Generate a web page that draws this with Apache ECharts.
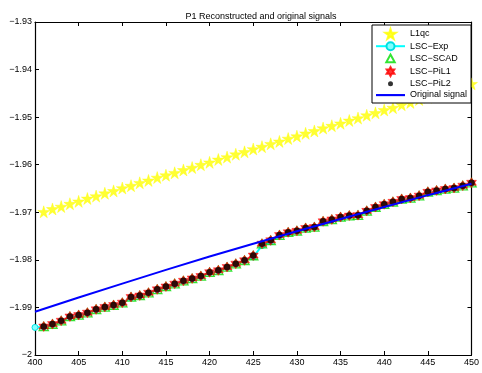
<!DOCTYPE html>
<html>
<head>
<meta charset="utf-8">
<script src="https://cdn.jsdelivr.net/npm/echarts@6/dist/echarts.min.js"></script>
<style>
  html, body { margin: 0; padding: 0; background: #fff; }
  #chart { width: 482px; height: 373px; }
</style>
</head>
<body>
<div id="chart"></div>
<script>
// sample positions
const markerX = [401, 402, 403, 404, 405, 406, 407, 408, 409, 410,
  411, 412, 413, 414, 415, 416, 417, 418, 419, 420,
  421, 422, 423, 424, 425, 426, 427, 428, 429, 430,
  431, 432, 433, 434, 435, 436, 437, 438, 439, 440,
  441, 442, 443, 444, 445, 446, 447, 448, 449, 450]

const l1qc = [-1.9699, -1.9693, -1.9688, -1.9682, -1.9677, -1.9671, -1.9666, -1.9660, -1.9655, -1.9649,
  -1.9644, -1.9638, -1.9633, -1.9627, -1.9622, -1.9617, -1.9611, -1.9606, -1.9600, -1.9595,
  -1.9589, -1.9584, -1.9578, -1.9573, -1.9567, -1.9562, -1.9556, -1.9551, -1.9545, -1.9540,
  -1.9534, -1.9529, -1.9523, -1.9518, -1.9513, -1.9507, -1.9502, -1.9496, -1.9491, -1.9485,
  -1.9480, -1.9474, -1.9469, -1.9463, -1.9458, -1.9452, -1.9447, -1.9441, -1.9436, -1.9430]

// LSC-SCAD, LSC-PiL1 and LSC-PiL2 sit on top of each other at this scale
const lscPiL = [-1.9940, -1.9935, -1.9928, -1.9919, -1.9916, -1.9911, -1.9904, -1.9899, -1.9895, -1.9890,
  -1.9878, -1.9875, -1.9869, -1.9862, -1.9856, -1.9850, -1.9844, -1.9839, -1.9834, -1.9826,
  -1.9822, -1.9815, -1.9808, -1.9801, -1.9791, -1.9766, -1.9759, -1.9748, -1.9742, -1.9739,
  -1.9733, -1.9731, -1.9719, -1.9715, -1.9710, -1.9707, -1.9706, -1.9697, -1.9689, -1.9683,
  -1.9678, -1.9672, -1.9670, -1.9665, -1.9657, -1.9654, -1.9651, -1.9649, -1.9644, -1.9638]

const expX = [400, 401, 402, 403, 404, 405, 406, 407, 408, 409, 410,
  411, 412, 413, 414, 415, 416, 417, 418, 419, 420,
  421, 422, 423, 424, 425, 426, 427, 428, 429, 430,
  431, 432, 433, 434, 435, 436, 437, 438, 439, 440,
  441, 442, 443, 444, 445, 446, 447, 448, 449, 450]
const lscExp = [-1.9942, -1.9941, -1.9936, -1.9929, -1.9920, -1.9917, -1.9912, -1.9905, -1.9900, -1.9896, -1.9891,
  -1.9880, -1.9876, -1.9870, -1.9863, -1.9857, -1.9851, -1.9845, -1.9840, -1.9835, -1.9827,
  -1.9823, -1.9816, -1.9809, -1.9802, -1.9794, -1.9770, -1.9762, -1.9750, -1.9744, -1.9740,
  -1.9735, -1.9732, -1.9721, -1.9716, -1.9712, -1.9708, -1.9707, -1.9699, -1.9691, -1.9684,
  -1.9679, -1.9674, -1.9671, -1.9666, -1.9659, -1.9656, -1.9652, -1.9650, -1.9645, -1.9639]

const origX = [400, 405, 410, 415, 420, 425, 430, 435, 440, 445, 450]
const original = [-1.9909, -1.9879, -1.9850, -1.9821, -1.9793, -1.9766, -1.9740, -1.9714, -1.9689, -1.9664, -1.9640]

const xTicks = { min: 400, max: 450, step: 5 }
const yTicks = { min: -2, max: -1.93, step: 0.01 }

const pairs = (xs, ys) => xs.map((x, i) => [x, ys[i]])

// symbol paths; the extra M points pad the box so legend icons stay small
const STAR5 = 'path://M50,0 L61,35 L98,35 L68,57 L79,91 L50,70 L21,91 L32,57 L2,35 L39,35 Z'
const STAR6 = 'path://M50,0 L64,25 L93,25 L79,50 L93,75 L64,75 L50,100 L36,75 L7,75 L21,50 L7,25 L36,25 Z'
const TRI = 'path://M0,0 M100,100 M50,12 L92,88 L8,88 Z'
const DOT = 'path://M0,0 M100,100 M25,50 A25,25 0 1,1 75,50 A25,25 0 1,1 25,50 Z'
const HEX_LEG = 'path://M0,0 M100,100 M50,5 L63,28 L89,28 L76,50 L89,72 L63,72 L50,95 L37,72 L11,72 L24,50 L11,28 L37,28 Z'
const BAR = 'path://M0,4 L30,4 L30,6.2 L0,6.2 Z M0,0 M30,10'
const FONT = 'Liberation Sans, Arial, Helvetica, sans-serif'

const fmt = (v) => String(Math.round(v * 100) / 100).replace('-', '\u2212')

const axisCommon = {
  axisLine: { show: true, onZero: false, lineStyle: { color: '#000', width: 1.2 } },
  axisTick: { show: true, inside: true, length: 4, lineStyle: { color: '#000' } },
  splitLine: { show: false }
}

const chart = echarts.init(document.getElementById('chart'), null, { renderer: 'canvas' })

chart.setOption({
  animation: false,
  backgroundColor: '#fff',
  textStyle: { fontFamily: FONT },
  title: {
    text: 'P1 Reconstructed and original signals',
    left: 256,
    textAlign: 'center',
    top: 7,
    textStyle: { fontSize: 9, fontWeight: 'normal', color: '#000', fontFamily: FONT }
  },
  grid: { left: 35, right: 6, top: 22, bottom: 18 },
  legend: {
    orient: 'vertical',
    left: 372,
    top: 25,
    padding: [3, 4, 3, 3],
    itemGap: 1.2,
    itemWidth: 29,
    itemHeight: 10,
    borderColor: '#000',
    borderWidth: 1,
    backgroundColor: '#fff',
    textStyle: { fontSize: 9, lineHeight: 10, color: '#000', fontFamily: FONT },
    data: [
      { name: 'L1qc' },
      { name: 'LSC\u2212Exp' },
      { name: 'LSC\u2212SCAD' },
      { name: 'LSC\u2212PiL1', icon: HEX_LEG },
      { name: 'LSC\u2212PiL2' },
      { name: 'Original signal', icon: BAR }
    ]
  },
  xAxis: [
    {
      type: 'value', min: xTicks.min, max: xTicks.max, interval: xTicks.step,
      ...axisCommon,
      axisLabel: { color: '#000', fontSize: 9, margin: 3, fontFamily: FONT }
    },
    {
      type: 'value', position: 'top', min: xTicks.min, max: xTicks.max, interval: xTicks.step,
      ...axisCommon,
      axisLabel: { show: false }
    }
  ],
  yAxis: [
    {
      type: 'value', min: yTicks.min, max: yTicks.max, interval: yTicks.step,
      ...axisCommon,
      axisLabel: { color: '#000', fontSize: 9, margin: 3, fontFamily: FONT, formatter: fmt }
    },
    {
      type: 'value', position: 'right', min: yTicks.min, max: yTicks.max, interval: yTicks.step,
      ...axisCommon,
      axisLabel: { show: false }
    }
  ],
  series: [
    {
      name: 'L1qc',
      type: 'scatter',
      z: 2,
      data: pairs(markerX, l1qc),
      symbol: STAR5,
      symbolSize: 12,
      itemStyle: { color: '#ffff00', borderColor: '#ffff00', borderWidth: 0.5 }
    },
    {
      name: 'LSC\u2212Exp',
      type: 'line',
      z: 3,
      data: pairs(expX, lscExp),
      symbol: 'circle',
      symbolSize: 6,
      showAllSymbol: true,
      lineStyle: { color: '#00ffff', width: 2 },
      itemStyle: { color: '#80ffff', borderColor: '#00e0e0', borderWidth: 1 }
    },
    {
      name: 'LSC\u2212SCAD',
      type: 'scatter',
      z: 4,
      data: pairs(markerX, lscPiL),
      symbol: TRI,
      symbolSize: 11,
      itemStyle: { color: 'rgba(0,0,0,0)', borderColor: '#00dd00', borderWidth: 1.3 }
    },
    {
      name: 'LSC\u2212PiL1',
      type: 'scatter',
      z: 5,
      data: pairs(markerX, lscPiL),
      symbol: STAR6,
      symbolSize: 10,
      itemStyle: { color: '#ff0000', borderColor: '#ff0000', borderWidth: 0.5 }
    },
    {
      name: 'LSC\u2212PiL2',
      type: 'scatter',
      z: 6,
      data: pairs(markerX, lscPiL),
      symbol: DOT,
      symbolSize: 13,
      itemStyle: { color: '#000' }
    },
    {
      name: 'Original signal',
      type: 'line',
      z: 7,
      data: pairs(origX, original),
      symbol: 'none',
      lineStyle: { color: '#0000ff', width: 2 },
      itemStyle: { color: '#0000ff' }
    }
  ]
})
</script>
</body>
</html>
